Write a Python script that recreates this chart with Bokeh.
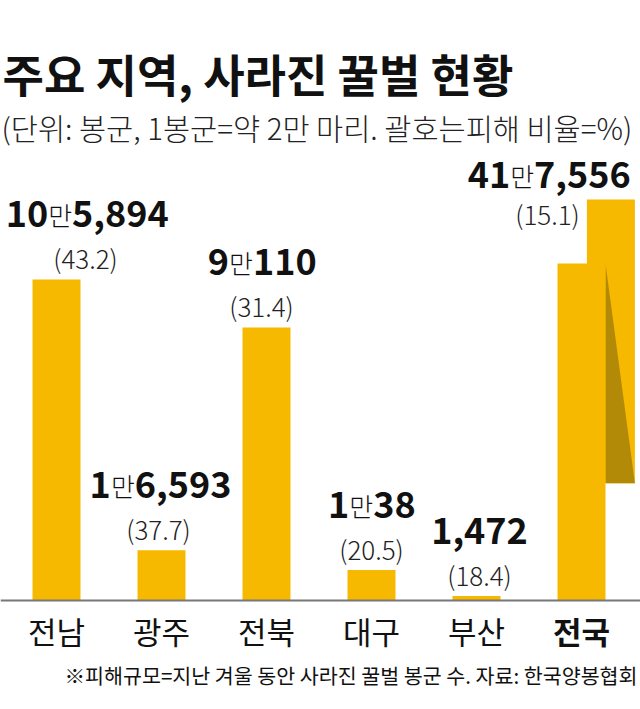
from bokeh.plotting import figure
from bokeh.models import Range1d, Label, Span, ColumnDataSource
from bokeh.core.properties import value
from bokeh.embed import file_html
from bokeh.resources import INLINE

# ---------------- data ----------------
regions = ["전남", "광주", "전북", "대구", "부산", "전국"]
colonies = [105894, 16593, 90110, 10038, 1472, 417556]
damage_pct = [43.2, 37.7, 31.4, 20.5, 18.4, 15.1]

title_text = "주요 지역, 사라진 꿀벌 현황"
subtitle_text = "(단위: 봉군, 1봉군=약 2만 마리. 괄호는피해 비율=%)"
footnote_text = "※피해규모=지난 겨울 동안 사라진 꿀벌 봉군 수. 자료: 한국양봉협회"

# ---------------- style ----------------
BAR = "#F6B900"
DARK = "#B38A08"
INK = "#111111"
GREY = "#222222"
FONT = "Noto Sans CJK KR"
FONT_LIGHT = "Noto Sans CJK KR Light"

W, H = 640, 709
UNITS_PER_PX = 330.0
BASE_PX = 600          # canvas y of the baseline
X0_PX, STEP_PX = 56.0, 105.0
BAR_W = 0.457

# broken-bar geometry for the national total (relative to regional max)
reg_max = max(colonies[:-1])
LEFT_TOP = 1.05 * reg_max
RIGHT_TOP = 1.25 * reg_max
RIGHT_BOT = 0.365 * reg_max
RIGHT_DX = 0.28

# label placement tweaks (pixels)
label_dx = [29, -3, -5, 0, 3, -34]
big_dy = [0, 0, 0, 0, 0, 41]
pct_dy = [0, 0, 0, 0, 0, 36]

p = figure(width=W, height=H, output_backend="svg", toolbar_location=None,
           x_axis_location=None, y_axis_location=None,
           x_range=Range1d(-X0_PX / STEP_PX, (W - X0_PX) / STEP_PX),
           y_range=Range1d(-(H - BASE_PX) * UNITS_PER_PX, BASE_PX * UNITS_PER_PX),
           min_border=0, outline_line_color=None, background_fill_color="white",
           border_fill_color="white")
p.grid.visible = False

n = len(regions)
idx = list(range(n))

# regular bars
p.vbar(x=idx[:-1], top=colonies[:-1], bottom=0, width=BAR_W,
       fill_color=BAR, line_color=None)

# national total: broken (folded) bar
xr = idx[-1] + RIGHT_DX
p.quad(left=[xr - BAR_W / 2], right=[xr + BAR_W / 2], bottom=[RIGHT_BOT], top=[RIGHT_TOP],
       fill_color=BAR, line_color=None)
xl_edge = idx[-1] + BAR_W / 2
p.patch(x=[xl_edge, xl_edge, xr + BAR_W / 2], y=[LEFT_TOP, RIGHT_BOT, RIGHT_BOT],
        fill_color=DARK, line_color=None)
p.quad(left=[idx[-1] - BAR_W / 2], right=[idx[-1] + BAR_W / 2], bottom=[0], top=[LEFT_TOP],
       fill_color=BAR, line_color=None)

# axis line
p.add_layout(Span(location=0, dimension="width", line_color="#777777", line_width=2))

# ---------------- value labels ----------------
BIG = 36
MAN = 26


def w_big(s):
    return sum(0.57 * BIG if c.isdigit() else 0.27 * BIG for c in s)


tops = colonies[:-1] + [RIGHT_TOP]
A = dict(x=[], y=[], t=[], xo=[], yo=[])
B = dict(x=[], y=[], t=[], xo=[], yo=[])
M = dict(x=[], y=[], t=[], xo=[], yo=[])
C = dict(x=[], y=[], t=[], xo=[], yo=[])
PC = dict(x=[], y=[], t=[], xo=[], yo=[])
for i, v in enumerate(colonies):
    y = tops[i]
    yo_big = -66 + big_dy[i]
    yo_pct = -22 + pct_dy[i]
    if v >= 10000:
        a = str(v // 10000)
        b = f"{v % 10000:,}"
        wa, wb = w_big(a), w_big(b)
        man_w = MAN - 2
        Wt = wa + man_w + wb
        left = label_dx[i] - Wt / 2
        A["x"].append(i); A["y"].append(y); A["t"].append(a); A["xo"].append(left + wa); A["yo"].append(yo_big)
        M["x"].append(i); M["y"].append(y); M["t"].append("만"); M["xo"].append(left + wa + man_w / 2); M["yo"].append(yo_big + 1)
        B["x"].append(i); B["y"].append(y); B["t"].append(b); B["xo"].append(left + wa + man_w); B["yo"].append(yo_big)
    else:
        C["x"].append(i); C["y"].append(y); C["t"].append(f"{v:,}"); C["xo"].append(label_dx[i]); C["yo"].append(yo_big)
    PC["x"].append(i); PC["y"].append(y); PC["t"].append(f"({damage_pct[i]})")
    PC["xo"].append(label_dx[i]); PC["yo"].append(yo_pct)

for d, align, size, font, style, col in [
    (A, "right", BIG, FONT, "bold", INK),
    (B, "left", BIG, FONT, "bold", INK),
    (C, "center", BIG, FONT, "bold", INK),
    (M, "center", MAN, FONT_LIGHT, "normal", INK),
    (PC, "center", 26, FONT_LIGHT, "normal", GREY),
]:
    p.text(x="x", y="y", text="t", x_offset="xo", y_offset="yo", source=ColumnDataSource(d),
           text_align=align, text_baseline="middle", text_font=value(font),
           text_font_style=style, text_font_size=f"{size}px", text_color=col)

# category labels
cat_src = ColumnDataSource(dict(x=idx, y=[0] * n, t=regions,
                                st=["normal"] * (n - 1) + ["bold"]))
p.text(x="x", y="y", text="t", source=cat_src, y_offset=30, text_align="center",
       text_baseline="middle", text_font=value(FONT), text_font_style="st",
       text_font_size="31px", text_color=INK)

# ---------------- titles ----------------
p.add_layout(Label(x=2, y=H - 73, x_units="screen", y_units="screen", text=title_text,
                   text_font=FONT, text_font_style="bold", text_font_size="45px",
                   text_color=INK, text_baseline="middle", text_align="left"))
p.add_layout(Label(x=1, y=H - 126, x_units="screen", y_units="screen", text=subtitle_text,
                   text_font=FONT_LIGHT, text_font_size="29.5px",
                   text_color=GREY, text_baseline="middle", text_align="left"))
p.add_layout(Label(x=637, y=H - 674, x_units="screen", y_units="screen", text=footnote_text,
                   text_font=FONT, text_font_size="20.6px",
                   text_color=INK, text_baseline="middle", text_align="right"))

open("out.html", "w").write(file_html(p, INLINE))
